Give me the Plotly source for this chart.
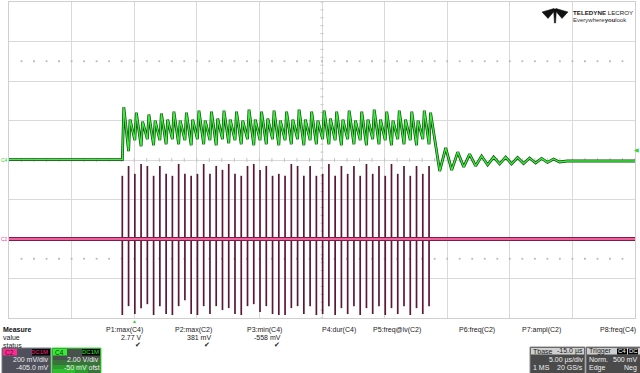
import plotly.graph_objects as go

# ---------------- data (time in microseconds, values in volts) ----------------
spike_t = [-0.95, -0.45, 0.05, 0.55, 1.05, 1.55, 2.05, 2.55, 3.05, 3.55,
           4.05, 4.55, 5.05, 5.55, 6.05, 6.55, 7.05, 7.55, 8.05, 8.55,
           9.05, 9.55, 10.05, 10.55, 11.05, 11.55, 12.05, 12.55, 13.05, 13.55,
           14.05, 14.55, 15.05, 15.55, 16.05, 16.55, 17.05, 17.55, 18.05, 18.55,
           19.05, 19.55, 20.05, 20.55, 21.05, 21.55, 22.05, 22.55, 23.05, 23.55]

c2_top = [0.32, 0.37, 0.33, 0.38, 0.37, 0.32, 0.37, 0.33, 0.32, 0.38,
          0.33, 0.32, 0.33, 0.38, 0.33, 0.37, 0.35, 0.38, 0.33, 0.32,
          0.37, 0.38, 0.35, 0.37, 0.32, 0.33, 0.32, 0.38, 0.37, 0.32,
          0.37, 0.32, 0.33, 0.38, 0.32, 0.37, 0.33, 0.37, 0.32, 0.38,
          0.33, 0.37, 0.32, 0.38, 0.33, 0.37, 0.32, 0.37, 0.33, 0.37]
c2_bot = [-0.385, -0.34, -0.38, -0.35, -0.33, -0.385, -0.34, -0.38, -0.385, -0.34,
          -0.31, -0.38, -0.385, -0.34, -0.38, -0.34, -0.36, -0.35, -0.38, -0.385,
          -0.34, -0.33, -0.37, -0.34, -0.38, -0.385, -0.385, -0.35, -0.34, -0.38,
          -0.34, -0.385, -0.38, -0.34, -0.385, -0.35, -0.38, -0.34, -0.385, -0.35,
          -0.38, -0.34, -0.385, -0.35, -0.38, -0.34, -0.385, -0.35, -0.38, -0.34]

c4_peak = [2.68, 2.05, 2.40, 1.95, 2.30, 2.00, 2.35, 2.05, 2.45, 2.00,
           2.40, 2.05, 2.50, 2.00, 2.45, 2.10, 2.50, 2.05, 2.45, 2.00,
           2.55, 2.05, 2.45, 2.10, 2.50, 2.00, 2.45, 2.05, 2.55, 2.05,
           2.45, 2.00, 2.50, 2.10, 2.45, 2.05, 2.50, 2.00, 2.45, 2.05,
           2.55, 2.05, 2.45, 2.00, 2.50, 2.05, 2.45, 2.00, 2.50, 2.40]
c4_trough = [0.45, 1.00, 0.70, 1.05, 0.75, 1.00, 0.80, 1.05, 0.80, 1.00,
             0.75, 1.05, 0.80, 1.00, 0.75, 1.05, 0.85, 1.00, 0.80, 1.05,
             0.75, 1.00, 0.80, 1.05, 0.75, 1.00, 0.80, 1.05, 0.75, 1.00,
             0.80, 1.05, 0.80, 1.00, 0.75, 1.05, 0.80, 1.00, 0.75, 1.05,
             0.80, 1.00, 0.75, 1.05, 0.80, 1.00, 0.75, 1.05, 0.80]

c4_pre_t = [-10.0, -0.95]
c4_pre_v = [0.02, 0.02]
ring_t = [24.40, 24.88, 25.36, 25.84, 26.32, 26.79, 27.27, 27.75, 28.23, 28.71,
          29.19, 29.67, 30.14, 30.62, 31.10, 31.58, 32.06, 32.54, 33.01, 33.49,
          33.97, 34.60, 40.0]
ring_v = [-0.56, 0.61, -0.51, 0.40, -0.35, 0.30, -0.30, 0.20, -0.25, 0.15,
          -0.20, 0.15, -0.20, 0.13, -0.18, 0.10, -0.15, 0.08, -0.12, 0.05,
          -0.10, -0.05, -0.05]

c2_base_t = [-10.0, 40.0]
c2_base_v = [0.0, 0.0]

meas_labels = ["P1:max(C4)", "P2:max(C2)", "P3:min(C4)", "P4:dur(C4)",
               "P5:freq@lv(C2)", "P6:freq(C2)", "P7:ampl(C2)", "P8:freq(C4)"]
meas_values = ["2.77 V", "381 mV", "-558 mV", "", "", "", "", ""]
meas_status = ["✔", "✔", "✔", "", "", "", "", ""]

C4_SCALE, C4_POS = 2.0, 0.0      # V/div, screen position (div)
C2_SCALE, C2_POS = 0.2, -2.0
TRIG_LEVEL = 0.5

# ---------------- geometry helpers ----------------
L, R, T, B = 9, 635, 2, 318
W, H = 640, 373


def px(x):
    return (x - L) / (R - L)


def py(y):
    return (B - y) / (B - T)


def c4div(v):
    return v / C4_SCALE + C4_POS


def c2div(v):
    return v / C2_SCALE + C2_POS


fig = go.Figure()

# ---------------- graticule decorations ----------------
tx, ty = [], []
k = -4.0
while k <= 4.0001:
    tx += [14.88, 15.12, None]
    ty += [k, k, None]
    k += 0.2
k = -10.0
while k <= 40.0001:
    tx += [k, k, None]
    ty += [-0.05, 0.05, None]
    k += 1.0
fig.add_trace(go.Scatter(x=tx, y=ty, mode="lines", line=dict(color="#c4c4c4", width=1),
                         hoverinfo="skip", showlegend=False))
dx, dy = [], []
k = -9.0
while k <= 39.0001:
    for yy in (2.5, -2.5):
        dx.append(k)
        dy.append(yy)
    k += 1.0
fig.add_trace(go.Scatter(x=dx, y=dy, mode="markers",
                         marker=dict(color="#b8b8b8", size=1.8, symbol="square"),
                         hoverinfo="skip", showlegend=False))

# ---------------- C2 (magenta) ----------------
sx, sy = [], []
for t, a, b in zip(spike_t, c2_top, c2_bot):
    sx += [t, t, None]
    sy += [c2div(a), c2div(b), None]
fig.add_trace(go.Scatter(x=sx, y=sy, mode="lines", line=dict(color="#5a1834", width=1.7),
                         hoverinfo="skip", showlegend=False))
by = [c2div(v) for v in c2_base_v]
fig.add_trace(go.Scatter(x=c2_base_t, y=by, mode="lines", line=dict(color="#5a1834", width=4.2),
                         hoverinfo="skip", showlegend=False))
fig.add_trace(go.Scatter(x=c2_base_t, y=by, mode="lines", line=dict(color="#e8307c", width=2.4),
                         hoverinfo="skip", showlegend=False))
fig.add_trace(go.Scatter(x=c2_base_t, y=by, mode="lines", line=dict(color="#ffa8d2", width=0.8),
                         hoverinfo="skip", showlegend=False))

# ---------------- C4 (green) ----------------
gx, gy = list(c4_pre_t), list(c4_pre_v)
for i, t in enumerate(spike_t):
    gx.append(t + 0.12)
    gy.append(c4_peak[i])
    if i < len(c4_trough):
        gx.append(spike_t[i + 1])
        gy.append(c4_trough[i])
gx += ring_t
gy += ring_v
gyd = [c4div(v) for v in gy]
fig.add_trace(go.Scatter(x=gx, y=gyd, mode="lines", line=dict(color="#124a12", width=2.8),
                         hoverinfo="skip", showlegend=False))
fig.add_trace(go.Scatter(x=gx, y=gyd, mode="lines", line=dict(color="#3def3d", width=1.3),
                         hoverinfo="skip", showlegend=False))

# ---------------- axes ----------------
ax = dict(showgrid=True, gridcolor="#d9d9d9", gridwidth=1, zeroline=False,
          showticklabels=False, ticks="", showline=True, mirror=True,
          linecolor="#cfcfcf", linewidth=1, fixedrange=True)
fig.update_xaxes(range=[-10, 40], tick0=-10, dtick=5, **ax)
fig.update_yaxes(range=[-4, 4], tick0=-4, dtick=1, **ax)

ann = []
shapes = []
FONT = "Liberation Sans, Arial, sans-serif"


def text(x, y, s, size=7, color="#333333", anchor="left", bold=False, family=FONT):
    if bold:
        s = "<b>" + s + "</b>"
    ann.append(dict(x=px(x), y=py(y), xref="paper", yref="paper", text=s, showarrow=False,
                    xanchor=anchor, yanchor="middle", borderpad=0,
                    font=dict(size=size, color=color, family=family)))


def rect(x0, y0, x1, y1, fill, line=None, lw=0, opacity=1.0):
    shapes.append(dict(type="rect", xref="paper", yref="paper",
                       x0=px(x0), x1=px(x1), y0=py(y1), y1=py(y0),
                       fillcolor=fill, opacity=opacity,
                       line=dict(color=line or fill, width=lw)))


# channel markers on the grid edge
text(0, 160, "C4", size=5, color="#2fd02f")
text(0, 239, "C2", size=5, color="#ff3399")
tl = 318 - (c4div(TRIG_LEVEL) + 4) / 8 * 316
text(640, tl, "◀", size=6, color="#2fd02f", anchor="right")
text(134, 321, "▲", size=5, color="#2fd02f", anchor="center")

# logo
lp = [[(542, 12), (554, 8.5), (554, 11.5), (548, 18.5)],
      [(568, 12), (556, 8.5), (556, 11.5), (562, 18.5)],
      [(553.6, 9), (556.4, 9), (555.6, 23), (554.4, 23)]]
for poly in lp:
    path = "M " + " L ".join(f"{px(a):.5f},{py(b):.5f}" for a, b in poly) + " Z"
    shapes.append(dict(type="path", xref="paper", yref="paper", path=path,
                       fillcolor="#111111", line=dict(color="#111111", width=0.5)))
text(572, 12.5, "<b>TELEDYNE</b> LECROY", size=6.2, color="#1a1a1a")
text(572, 20, "Everywhere<b>you</b>look", size=6, color="#333333")

# measurement table
text(2, 329, "Measure", bold=True, color="#111111")
text(2, 337, "value", color="#222222")
text(2, 345, "status", color="#222222")
rights = [144, 213, 283, 357, 422, 496, 562, 637]
for r, lab, val, st in zip(rights, meas_labels, meas_values, meas_status):
    text(r, 329.5, lab, anchor="right", color="#222222")
    if val:
        text(r - 1, 337, val, anchor="right", color="#222222")
    if st:
        text(r - 2, 345, st, anchor="right", color="#222222", size=7,
             family="DejaVu Sans")

# C2 descriptor box
rect(2, 348, 51, 374, "#50505c", "#7a7a86", 1)
rect(3, 349, 17, 355.5, "#ff2a92")
text(4, 352.3, "C2", size=6.5, color="#5a0a2a")
rect(32, 349, 50, 355.5, "#000000")
text(49.5, 352.3, "DC1M", size=6, color="#ff2a92", anchor="right")
text(50, 359.5, "200 mV/div", color="#ececec", anchor="right")
text(50, 367.5, "-405.0 mV", color="#ececec", anchor="right")

# C4 descriptor box
rect(52, 348, 101, 374, "#46524a", "#33ee33", 1)
rect(53, 360, 100, 373, "#2a9a2a", opacity=0.45)
rect(53, 365, 88, 373, "#25c025", opacity=0.55)
rect(53, 369, 75, 373, "#30e030", opacity=0.5)
rect(53, 349, 67, 355.5, "#33ee33")
text(54, 352.3, "C4", size=6.5, color="#0a3a0a")
rect(82, 349, 100, 355.5, "#000000")
text(99.5, 352.3, "DC1M", size=6, color="#33ee33", anchor="right")
text(100, 359.5, "2.00 V/div", color="#f0f0f0", anchor="right")
text(101, 367.5, "-50 mV ofst", color="#f0f0f0", anchor="right")

# Timebase box
rect(530, 347, 585, 374, "#4a4a4a", "#8a8a8a", 1)
rect(531, 348, 584, 354.5, "#cfcfcf")
text(532, 351.3, "Tbase", color="#1a1a1a")
text(584, 351.3, "-15.0 µs", color="#1a1a1a", anchor="right")
text(584, 359.5, "5.00 µs/div", color="#f0f0f0", anchor="right")
text(532, 367.5, "1 MS", color="#f0f0f0")
text(584, 367.5, "20 GS/s", color="#f0f0f0", anchor="right")

# Trigger box
rect(586, 347, 641, 374, "#4a4a4a", "#8a8a8a", 1)
rect(587, 348, 640, 354.5, "#cfcfcf")
text(588, 351.3, "Trigger", color="#1a1a1a")
rect(617, 348.5, 627, 354.5, "#000000")
text(622, 351.5, "C4", size=6, color="#ffffff", anchor="center")
rect(628, 348.5, 638, 354.5, "#000000")
text(633, 351.5, "DC", size=6, color="#ffffff", anchor="center")
text(588, 359.5, "Norm.", color="#f0f0f0")
text(638, 359.5, "500 mV", color="#f0f0f0", anchor="right")
text(588, 367.5, "Edge", color="#f0f0f0")
text(638, 367.5, "Neg", color="#f0f0f0", anchor="right")

fig.update_layout(width=W, height=H, margin=dict(l=L, r=W - R, t=T, b=H - B),
                  paper_bgcolor="white", plot_bgcolor="white",
                  showlegend=False, annotations=ann, shapes=shapes)

fig.write_html("out.html", config={"displayModeBar": False},
               post_script="document.body.style.margin='0';document.body.style.overflow='hidden';")
